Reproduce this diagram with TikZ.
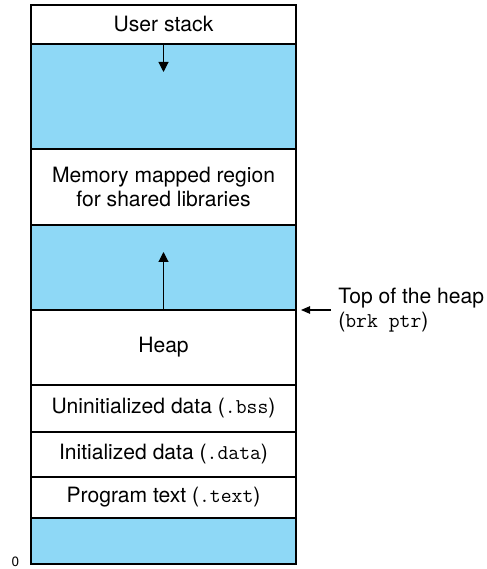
\documentclass[tikz,border=0pt]{standalone}
\usepackage{fontspec}
\setmainfont{TeX Gyre Heros}
\usetikzlibrary{positioning,arrows.meta,calc}
\definecolor{gapblue}{RGB}{142,216,246}
\begin{document}
\begin{tikzpicture}[
  seg/.style={draw,line width=.6pt,minimum width=5.3cm,inner sep=0pt,outer sep=0pt,align=center,fill=white},
  gap/.style={seg,fill=gapblue},
  growarrow/.style={line width=.6pt,-{Triangle[length=2mm,width=2mm]}},
  node distance=0pt,
  font=\fontsize{12}{13.7}\selectfont]
\useasboundingbox (0,0) rectangle (9.74,11.38);
\node[seg,minimum height=.78cm,anchor=north west] (stack) at (.62,11.28) {User stack};
\node[gap,minimum height=2.1cm,below=of stack] (free1) {};
\node[seg,minimum height=1.52cm,below=of free1] (mmap) {Memory mapped region\\for shared libraries};
\node[gap,minimum height=1.7cm,below=of mmap] (free2) {};
\node[seg,minimum height=1.5cm,below=of free2] (heap) {Heap};
\node[seg,minimum height=.94cm,below=of heap] (bss) {Uninitialized data (\texttt{.bss})};
\node[seg,minimum height=.9cm,below=of bss] (data) {Initialized data (\texttt{.data})};
\node[seg,minimum height=.82cm,below=of data] (text) {Program text (\texttt{.text})};
\node[gap,minimum height=.92cm,below=of text] (bottom) {};
\node[anchor=base,font=\fontsize{7.7}{9}\selectfont] (zero) at ($(bottom.south west)+(-.31,-.06)$) {0};
% growth arrows
\coordinate[below=.56cm of stack.south] (stacktip);
\draw[growarrow] (stack.south) -- (stacktip);
\coordinate[above=1.16cm of heap.north] (heaptip);
\draw[growarrow] (heap.north) -- (heaptip);
% brk pointer
\coordinate[right=.1cm of heap.north east] (brktip);
\coordinate[right=.7cm of heap.north east] (brktail);
\draw[line width=.6pt,-{Triangle[length=1.8mm,width=1.5mm]}] (brktail) -- (brktip);
\node[right=.14cm of brktail,align=left,inner sep=0pt] (brklabel) {Top of the heap\\(\texttt{brk ptr})};
\end{tikzpicture}
\end{document}
